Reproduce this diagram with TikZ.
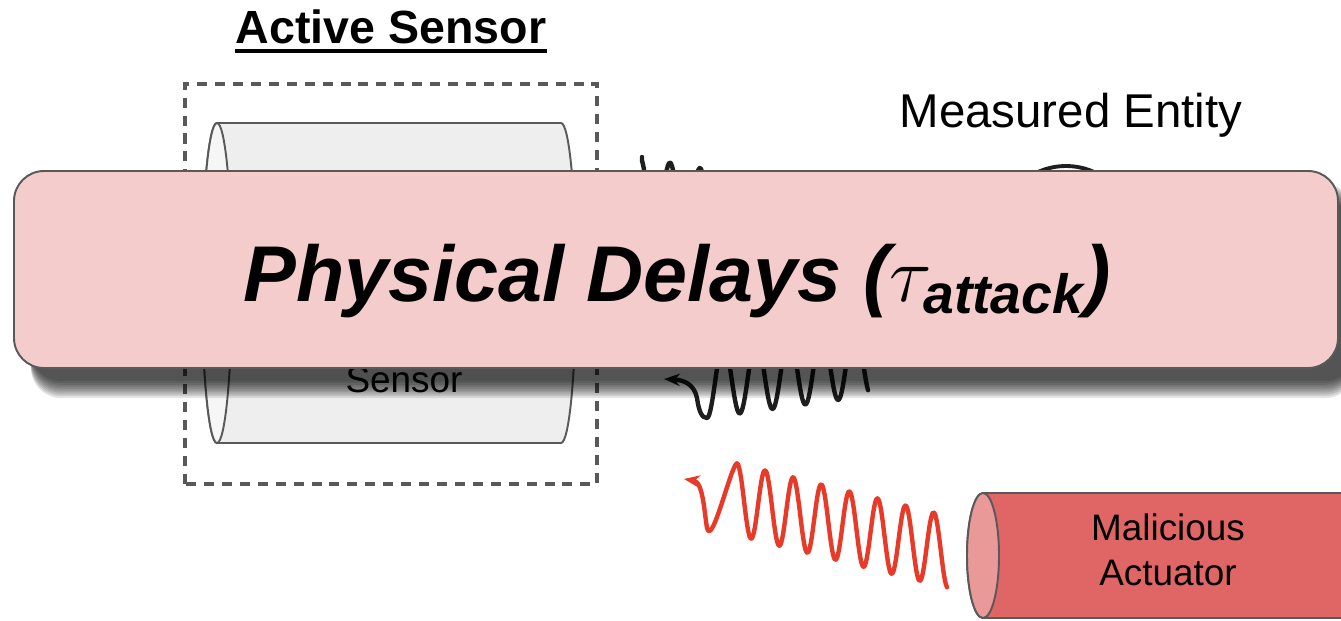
\documentclass[tikz,border=0pt]{standalone}
\usepackage{fix-cm}
\usepackage{amsmath}
\usepackage{fontspec}
\setmainfont{Liberation Sans}
\usetikzlibrary{arrows.meta}
\definecolor{bannerpink}{HTML}{F4CCCC}
\definecolor{edgegray}{HTML}{595959}
\definecolor{sensorbody}{HTML}{EEEEEE}
\definecolor{sensorface}{HTML}{F6F6F6}
\definecolor{actbody}{HTML}{E06666}
\definecolor{actface}{HTML}{EA9999}
\definecolor{attackred}{RGB}{232,58,40}
\definecolor{wavegray}{HTML}{1E1E1E}

\begin{document}
\begin{tikzpicture}[x=0.02cm,y=0.02cm,
  txt/.style={inner sep=0pt,align=center,font=\fontsize{21}{25.5}\selectfont},
  wave/.style={line width=2.5pt,line cap=round,line join=round},
  rim/.style={draw=edgegray,line width=1.1pt}]
\clip (0,0) rectangle (1341,620);
\fill[white] (0,0) rectangle (1341,620);

\node[inner sep=0pt,anchor=base,font=\fontsize{26.5}{30}\selectfont\bfseries] (title) at (391,577) {Active Sensor};
\draw[line width=2.3pt] ([yshift=-0.16cm]title.base west) -- ([yshift=-0.16cm]title.base east);
\node[inner sep=0pt,anchor=base,font=\fontsize{27}{32}\selectfont] (entity) at (1071,493) {Measured Entity};

% sensor: dashed housing and cylinder
\draw[edgegray,line width=1.8pt,dash pattern=on 5.7pt off 4.5pt] (185,136) rectangle (597,536);
\filldraw[rim,fill=sensorbody] (217,497) -- (561,497) arc[start angle=90,end angle=-90,x radius=15,y radius=160]
  -- (217,177) arc[start angle=270,end angle=90,x radius=15,y radius=160] -- cycle;
\filldraw[rim,fill=sensorface] (217,337) ellipse[x radius=15,y radius=160];
\node[txt,anchor=base] (sensor) at (404,228) {Sensor};

% target object
\node[circle,draw=wavegray,line width=2.2pt,fill=white,minimum size=2.72cm] (ball) at (1066,386) {};

% actuator cylinder
\filldraw[rim,fill=actbody] (983,127) -- (1420,127) -- (1420,2) -- (983,2)
  arc[start angle=270,end angle=90,x radius=16,y radius=62.5] -- cycle;
\filldraw[rim,fill=actface] (983,64.5) ellipse[x radius=16,y radius=62.5];
\node[txt] (actuator) at (1168,70) {Malicious\\Actuator};

% probe wave, echo and injected signal
\coordinate (probe) at (642,463);
\coordinate (echo) at (664,241);
\coordinate (inject) at (684,141);
\draw[wave,wavegray,-{Stealth[length=9pt,width=8pt]}] (probe)
  -- plot[domain=642:860,samples=160] (\x,{427-(\x-640)/5.5+36*cos(12*(\x-640))});
\draw[wave,wavegray,{Stealth[length=9pt,width=7pt]}-] (echo) .. controls (684,240) and (694,236) .. (697,222)
  .. controls (699,208) and (702,202) .. (707,202)
  -- plot[domain=707:868,samples=150] (\x,{238+0.137*(\x-707)-36*cos(10.976*(\x-707))});
\draw[wave,attackred,-{Stealth[length=9pt,width=7pt]}]
  plot[domain=947:737,samples=200] (\x,{119-0.25*(\x-744)+36*cos(12.811*(\x-737))})
  .. controls (731,155) and (712,72) .. (707,92) .. controls (704,110) and (703,138) .. (inject);

% banner with soft drop shadow
\coordinate (bsw) at (14,252);
\coordinate (bne) at (1338,449);
\foreach \k in {0,...,9}
  \fill[black,opacity=0.1,rounded corners=0.6cm] ([shift={(17,-13-1.9*\k)}]bsw) rectangle ([shift={(17,-13-1.9*\k)}]bne);
\draw[draw=edgegray,line width=1.1pt,fill=bannerpink,rounded corners=0.6cm] (bsw) rectangle (bne);
\node[inner sep=0pt,anchor=base,font=\fontsize{45}{54}\selectfont\bfseries\itshape] (delay) at (677,319)
  {Physical Delays ($\tau_{\text{attack}}$)};
\end{tikzpicture}
\end{document}
